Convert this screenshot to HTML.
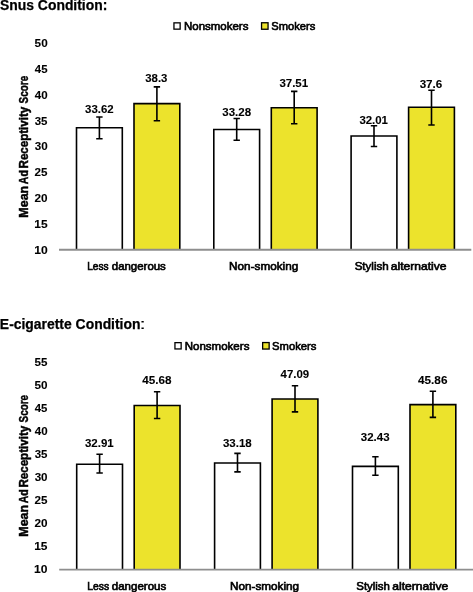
<!DOCTYPE html>
<html><head><meta charset="utf-8"><style>
html,body{margin:0;padding:0;background:#fff;overflow:hidden}
svg{display:block;-webkit-font-smoothing:antialiased;will-change:transform}
text{font-family:"Liberation Sans", sans-serif;fill:#000;stroke:#000;stroke-width:0.1px;}
</style></head><body>
<svg width="473" height="592" viewBox="0 0 473 592">
<rect width="473" height="592" fill="#fff"/>
<rect x="173.95" y="22.85" width="6.20" height="6.30" fill="#fff" stroke="#000" stroke-width="1.3"/>
<rect x="261.55" y="22.75" width="6.50" height="6.50" fill="#ece32c" stroke="#000" stroke-width="1.3"/>
<rect x="174.95" y="342.65" width="6.20" height="6.30" fill="#fff" stroke="#000" stroke-width="1.3"/>
<rect x="262.65" y="342.55" width="6.50" height="6.50" fill="#ece32c" stroke="#000" stroke-width="1.3"/>
<rect x="76.50" y="127.76" width="45.80" height="121.94" fill="#fff"/>
<path d="M76.50 249.70V127.76H122.30V249.70" fill="none" stroke="#000" stroke-width="1.6" stroke-linejoin="miter" stroke-linecap="butt"/>
<rect x="134.00" y="103.60" width="45.80" height="146.10" fill="#ece32c"/>
<path d="M134.00 249.70V103.60H179.80V249.70" fill="none" stroke="#000" stroke-width="1.6" stroke-linejoin="miter" stroke-linecap="butt"/>
<rect x="213.80" y="129.52" width="45.80" height="120.18" fill="#fff"/>
<path d="M213.80 249.70V129.52H259.60V249.70" fill="none" stroke="#000" stroke-width="1.6" stroke-linejoin="miter" stroke-linecap="butt"/>
<rect x="271.30" y="107.68" width="45.80" height="142.02" fill="#ece32c"/>
<path d="M271.30 249.70V107.68H317.10V249.70" fill="none" stroke="#000" stroke-width="1.6" stroke-linejoin="miter" stroke-linecap="butt"/>
<rect x="351.10" y="136.07" width="45.80" height="113.63" fill="#fff"/>
<path d="M351.10 249.70V136.07H396.90V249.70" fill="none" stroke="#000" stroke-width="1.6" stroke-linejoin="miter" stroke-linecap="butt"/>
<rect x="408.60" y="107.22" width="45.80" height="142.48" fill="#ece32c"/>
<path d="M408.60 249.70V107.22H454.40V249.70" fill="none" stroke="#000" stroke-width="1.6" stroke-linejoin="miter" stroke-linecap="butt"/>
<line x1="59.0" y1="249.7" x2="471.3" y2="249.7" stroke="#8e8e8e" stroke-width="1.9"/>
<path d="M99.40 117.00V138.70M96.20 117.00H102.60M96.20 138.70H102.60" stroke="#000" stroke-width="1.6" fill="none"/>
<path d="M156.90 86.90V120.80M153.70 86.90H160.10M153.70 120.80H160.10" stroke="#000" stroke-width="1.6" fill="none"/>
<path d="M236.70 118.50V140.20M233.50 118.50H239.90M233.50 140.20H239.90" stroke="#000" stroke-width="1.6" fill="none"/>
<path d="M294.20 91.40V123.70M291.00 91.40H297.40M291.00 123.70H297.40" stroke="#000" stroke-width="1.6" fill="none"/>
<path d="M374.00 125.80V146.50M370.80 125.80H377.20M370.80 146.50H377.20" stroke="#000" stroke-width="1.6" fill="none"/>
<path d="M431.50 90.20V125.00M428.30 90.20H434.70M428.30 125.00H434.70" stroke="#000" stroke-width="1.6" fill="none"/>
<rect x="76.70" y="464.21" width="45.80" height="105.39" fill="#fff"/>
<path d="M76.70 569.60V464.21H122.50V569.60" fill="none" stroke="#000" stroke-width="1.6" stroke-linejoin="miter" stroke-linecap="butt"/>
<rect x="134.20" y="405.47" width="45.80" height="164.13" fill="#ece32c"/>
<path d="M134.20 569.60V405.47H180.00V569.60" fill="none" stroke="#000" stroke-width="1.6" stroke-linejoin="miter" stroke-linecap="butt"/>
<rect x="214.60" y="462.97" width="45.80" height="106.63" fill="#fff"/>
<path d="M214.60 569.60V462.97H260.40V569.60" fill="none" stroke="#000" stroke-width="1.6" stroke-linejoin="miter" stroke-linecap="butt"/>
<rect x="272.10" y="398.99" width="45.80" height="170.61" fill="#ece32c"/>
<path d="M272.10 569.60V398.99H317.90V569.60" fill="none" stroke="#000" stroke-width="1.6" stroke-linejoin="miter" stroke-linecap="butt"/>
<rect x="352.50" y="466.42" width="45.80" height="103.18" fill="#fff"/>
<path d="M352.50 569.60V466.42H398.30V569.60" fill="none" stroke="#000" stroke-width="1.6" stroke-linejoin="miter" stroke-linecap="butt"/>
<rect x="410.00" y="404.64" width="45.80" height="164.96" fill="#ece32c"/>
<path d="M410.00 569.60V404.64H455.80V569.60" fill="none" stroke="#000" stroke-width="1.6" stroke-linejoin="miter" stroke-linecap="butt"/>
<line x1="59.2" y1="569.6" x2="474" y2="569.6" stroke="#8e8e8e" stroke-width="1.9"/>
<path d="M99.60 454.20V473.00M96.40 454.20H102.80M96.40 473.00H102.80" stroke="#000" stroke-width="1.6" fill="none"/>
<path d="M157.10 391.80V418.50M153.90 391.80H160.30M153.90 418.50H160.30" stroke="#000" stroke-width="1.6" fill="none"/>
<path d="M237.50 453.40V471.90M234.30 453.40H240.70M234.30 471.90H240.70" stroke="#000" stroke-width="1.6" fill="none"/>
<path d="M295.00 385.80V411.90M291.80 385.80H298.20M291.80 411.90H298.20" stroke="#000" stroke-width="1.6" fill="none"/>
<path d="M375.40 456.80V475.30M372.20 456.80H378.60M372.20 475.30H378.60" stroke="#000" stroke-width="1.6" fill="none"/>
<path d="M432.90 391.30V417.40M429.70 391.30H436.10M429.70 417.40H436.10" stroke="#000" stroke-width="1.6" fill="none"/>
<text x="-0.00" y="9.80" font-size="14.0" font-weight="bold" textLength="107.34" lengthAdjust="spacingAndGlyphs" style="stroke-width:0.25px">Snus Condition:</text>
<text x="-0.13" y="328.70" font-size="14.0" font-weight="bold" textLength="140.59" lengthAdjust="spacingAndGlyphs" style="stroke-width:0.25px">E-cigarette Condition</text>
<text x="139.39" y="328.90" font-size="14.0" font-weight="normal" textLength="6.71" lengthAdjust="spacingAndGlyphs" style="stroke-width:0.0px">:</text>
<text x="183.96" y="29.50" font-size="11.6" font-weight="normal" textLength="64.46" lengthAdjust="spacingAndGlyphs" style="stroke-width:0.65px">Nonsmokers</text>
<text x="271.29" y="29.50" font-size="11.6" font-weight="normal" textLength="44.01" lengthAdjust="spacingAndGlyphs" style="stroke-width:0.65px">Smokers</text>
<text x="184.65" y="349.70" font-size="11.6" font-weight="normal" textLength="64.76" lengthAdjust="spacingAndGlyphs" style="stroke-width:0.65px">Nonsmokers</text>
<text x="272.09" y="349.70" font-size="11.6" font-weight="normal" textLength="44.32" lengthAdjust="spacingAndGlyphs" style="stroke-width:0.65px">Smokers</text>
<text x="34.24" y="253.68" font-size="11.7" font-weight="bold" textLength="13.46" lengthAdjust="spacingAndGlyphs">10</text>
<text x="34.25" y="227.87" font-size="11.7" font-weight="bold" textLength="13.29" lengthAdjust="spacingAndGlyphs">15</text>
<text x="34.59" y="202.06" font-size="11.7" font-weight="bold" textLength="13.09" lengthAdjust="spacingAndGlyphs">20</text>
<text x="34.60" y="176.25" font-size="11.7" font-weight="bold" textLength="12.93" lengthAdjust="spacingAndGlyphs">25</text>
<text x="34.73" y="150.43" font-size="11.7" font-weight="bold" textLength="12.95" lengthAdjust="spacingAndGlyphs">30</text>
<text x="34.74" y="124.62" font-size="11.7" font-weight="bold" textLength="12.78" lengthAdjust="spacingAndGlyphs">35</text>
<text x="34.82" y="98.81" font-size="11.7" font-weight="bold" textLength="12.85" lengthAdjust="spacingAndGlyphs">40</text>
<text x="34.83" y="73.00" font-size="11.7" font-weight="bold" textLength="12.69" lengthAdjust="spacingAndGlyphs">45</text>
<text x="34.64" y="47.18" font-size="11.7" font-weight="bold" textLength="13.04" lengthAdjust="spacingAndGlyphs">50</text>
<text x="34.14" y="573.18" font-size="11.7" font-weight="bold" textLength="13.46" lengthAdjust="spacingAndGlyphs">10</text>
<text x="34.15" y="550.12" font-size="11.7" font-weight="bold" textLength="13.29" lengthAdjust="spacingAndGlyphs">15</text>
<text x="34.49" y="527.05" font-size="11.7" font-weight="bold" textLength="13.09" lengthAdjust="spacingAndGlyphs">20</text>
<text x="34.50" y="503.99" font-size="11.7" font-weight="bold" textLength="12.93" lengthAdjust="spacingAndGlyphs">25</text>
<text x="34.63" y="480.92" font-size="11.7" font-weight="bold" textLength="12.95" lengthAdjust="spacingAndGlyphs">30</text>
<text x="34.64" y="457.86" font-size="11.7" font-weight="bold" textLength="12.78" lengthAdjust="spacingAndGlyphs">35</text>
<text x="34.72" y="434.79" font-size="11.7" font-weight="bold" textLength="12.85" lengthAdjust="spacingAndGlyphs">40</text>
<text x="34.73" y="411.73" font-size="11.7" font-weight="bold" textLength="12.69" lengthAdjust="spacingAndGlyphs">45</text>
<text x="34.54" y="388.66" font-size="11.7" font-weight="bold" textLength="13.04" lengthAdjust="spacingAndGlyphs">50</text>
<text x="34.54" y="365.60" font-size="11.7" font-weight="bold" textLength="12.88" lengthAdjust="spacingAndGlyphs">55</text>
<text transform="translate(27.50 216.80) rotate(-90)" x="-0.83" y="0" font-size="12.2" font-weight="bold" textLength="31.81" lengthAdjust="spacingAndGlyphs" style="stroke-width:0.45px">Mean</text>
<text transform="translate(27.50 183.90) rotate(-90)" x="-0.26" y="0" font-size="12.2" font-weight="bold" textLength="14.06" lengthAdjust="spacingAndGlyphs" style="stroke-width:0.45px">Ad</text>
<text transform="translate(27.50 167.70) rotate(-90)" x="-0.77" y="0" font-size="12.2" font-weight="bold" textLength="61.74" lengthAdjust="spacingAndGlyphs" style="stroke-width:0.45px">Receptivity</text>
<text transform="translate(27.50 103.10) rotate(-90)" x="-0.29" y="0" font-size="12.2" font-weight="bold" textLength="27.63" lengthAdjust="spacingAndGlyphs" style="stroke-width:0.45px">Score</text>
<text transform="translate(27.50 535.90) rotate(-90)" x="-0.83" y="0" font-size="12.2" font-weight="bold" textLength="31.81" lengthAdjust="spacingAndGlyphs" style="stroke-width:0.45px">Mean</text>
<text transform="translate(27.50 503.00) rotate(-90)" x="-0.26" y="0" font-size="12.2" font-weight="bold" textLength="14.06" lengthAdjust="spacingAndGlyphs" style="stroke-width:0.45px">Ad</text>
<text transform="translate(27.50 486.80) rotate(-90)" x="-0.77" y="0" font-size="12.2" font-weight="bold" textLength="61.74" lengthAdjust="spacingAndGlyphs" style="stroke-width:0.45px">Receptivity</text>
<text transform="translate(27.50 422.20) rotate(-90)" x="-0.29" y="0" font-size="12.2" font-weight="bold" textLength="27.63" lengthAdjust="spacingAndGlyphs" style="stroke-width:0.45px">Score</text>
<text x="87.27" y="269.60" font-size="11.3" font-weight="normal" textLength="21.29" lengthAdjust="spacingAndGlyphs" style="stroke-width:0.65px">Less</text>
<text x="111.82" y="269.60" font-size="11.3" font-weight="normal" textLength="53.99" lengthAdjust="spacingAndGlyphs" style="stroke-width:0.65px">dangerous</text>
<text x="229.14" y="269.60" font-size="11.3" font-weight="normal" textLength="69.12" lengthAdjust="spacingAndGlyphs" style="stroke-width:0.65px">Non-smoking</text>
<text x="354.67" y="269.60" font-size="11.3" font-weight="normal" textLength="34.08" lengthAdjust="spacingAndGlyphs" style="stroke-width:0.65px">Stylish</text>
<text x="390.79" y="269.60" font-size="11.3" font-weight="normal" textLength="55.65" lengthAdjust="spacingAndGlyphs" style="stroke-width:0.65px">alternative</text>
<text x="87.25" y="589.90" font-size="11.3" font-weight="normal" textLength="21.82" lengthAdjust="spacingAndGlyphs" style="stroke-width:0.65px">Less</text>
<text x="111.82" y="589.90" font-size="11.3" font-weight="normal" textLength="54.40" lengthAdjust="spacingAndGlyphs" style="stroke-width:0.65px">dangerous</text>
<text x="230.04" y="589.90" font-size="11.3" font-weight="normal" textLength="69.12" lengthAdjust="spacingAndGlyphs" style="stroke-width:0.65px">Non-smoking</text>
<text x="356.28" y="589.90" font-size="11.3" font-weight="normal" textLength="33.66" lengthAdjust="spacingAndGlyphs" style="stroke-width:0.65px">Stylish</text>
<text x="392.28" y="589.90" font-size="11.3" font-weight="normal" textLength="55.95" lengthAdjust="spacingAndGlyphs" style="stroke-width:0.65px">alternative</text>
<text x="85.04" y="112.70" font-size="11.7" font-weight="bold" textLength="28.62" lengthAdjust="spacingAndGlyphs">33.62</text>
<text x="145.24" y="81.60" font-size="11.7" font-weight="bold" textLength="22.17" lengthAdjust="spacingAndGlyphs">38.3</text>
<text x="222.24" y="115.60" font-size="11.7" font-weight="bold" textLength="28.82" lengthAdjust="spacingAndGlyphs">33.28</text>
<text x="279.39" y="86.90" font-size="11.7" font-weight="bold" textLength="28.73" lengthAdjust="spacingAndGlyphs">37.51</text>
<text x="359.39" y="123.60" font-size="11.7" font-weight="bold" textLength="28.53" lengthAdjust="spacingAndGlyphs">32.01</text>
<text x="419.63" y="87.90" font-size="11.7" font-weight="bold" textLength="22.69" lengthAdjust="spacingAndGlyphs">37.6</text>
<text x="84.94" y="447.40" font-size="11.7" font-weight="bold" textLength="28.78" lengthAdjust="spacingAndGlyphs">32.91</text>
<text x="142.32" y="383.70" font-size="11.7" font-weight="bold" textLength="29.29" lengthAdjust="spacingAndGlyphs">45.68</text>
<text x="222.94" y="447.10" font-size="11.7" font-weight="bold" textLength="28.82" lengthAdjust="spacingAndGlyphs">33.18</text>
<text x="280.58" y="377.90" font-size="11.7" font-weight="bold" textLength="28.65" lengthAdjust="spacingAndGlyphs">47.09</text>
<text x="360.84" y="441.40" font-size="11.7" font-weight="bold" textLength="28.73" lengthAdjust="spacingAndGlyphs">32.43</text>
<text x="418.02" y="383.70" font-size="11.7" font-weight="bold" textLength="29.40" lengthAdjust="spacingAndGlyphs">45.86</text>
</svg>
</body></html>
